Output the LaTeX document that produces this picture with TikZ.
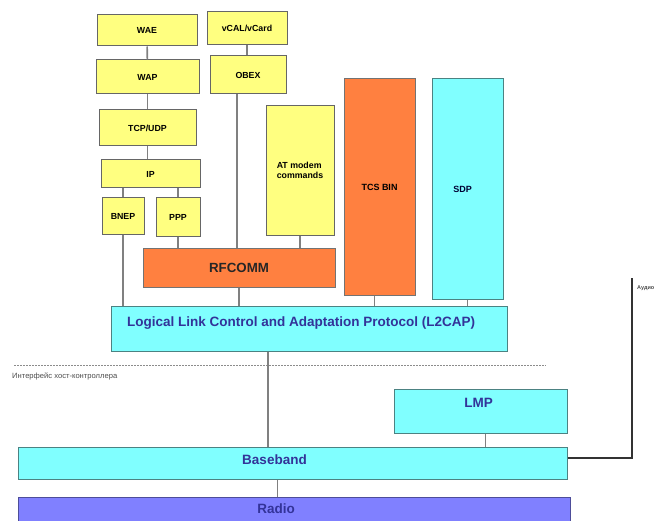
\documentclass[tikz,border=0pt]{standalone}
\usepackage{fontspec}
\setmainfont{Liberation Sans}
\usepackage{xcolor}
\usepackage{tikz}
\usetikzlibrary{positioning}

\definecolor{upyel}{HTML}{FFFF80}
\definecolor{uporg}{HTML}{FF8040}
\definecolor{upcyan}{HTML}{80FFFF}
\definecolor{upradio}{HTML}{8080FF}
\definecolor{uptext}{HTML}{333399}

\begin{document}
\begin{tikzpicture}[
    x=1pt, y=-1pt,
    box/.style={draw=black!60, rectangle, line width=1pt, inner sep=0pt, align=center},
    ylw/.style={box, fill=upyel, font=\bfseries\fontsize{8.8}{10}\selectfont},
    orng/.style={box, fill=uporg, draw=black!55},
    cyn/.style={box, fill=upcyan, draw=teal!60!black!70},
    big/.style={font=\bfseries\fontsize{13.5}{15}\selectfont, text=uptext},
    conn/.style={draw=black!50, line width=1.6pt}
  ]
    \useasboundingbox (0,0) rectangle (660,521);

    % upper stack
    \node[ylw, minimum width=100, minimum height=31] (wae) at (147,30.5) {WAE};
    \node[ylw, minimum width=80, minimum height=33] (vcal) at (247,28.5) {vCAL/vCard};
    \node[ylw, minimum width=103, minimum height=34] (wap) at (147.5,77) {WAP};
    \node[ylw, minimum width=76, minimum height=38] (obex) at (248,75) {OBEX};
    \node[ylw, minimum width=97, minimum height=36] (tcp) at (147.5,128) {TCP/UDP};
    \node[ylw, minimum width=99, minimum height=28] (ip) at (150.5,174) {IP};
    \node[ylw, minimum width=42, minimum height=36] (bnep) at (123,216) {BNEP};
    \node[ylw, minimum width=44, minimum height=38] (ppp) at (178,217) {PPP};
    \node[ylw, minimum width=68, minimum height=129, align=left] (at) at (300,170.5) {AT modem\\commands};
    \node[orng, minimum width=71, minimum height=216, font=\bfseries\fontsize{9}{10}\selectfont] (tcs) at (379.5,187) {TCS BIN};
    \node[cyn, minimum width=71, minimum height=220, font=\bfseries\fontsize{9}{10}\selectfont, text=black!80!blue] (sdp) at (467.5,189) {\hspace*{-10pt}SDP};
    \node[orng, minimum width=192, minimum height=39, font=\bfseries\fontsize{13.3}{15}\selectfont, text=black!85] (rfcomm) at (239,267.5) {RFCOMM};

    % lower stack
    \node[cyn, minimum width=396, minimum height=45,
      label={[big, xshift=-8pt, yshift=5pt]center:Logical Link Control and Adaptation Protocol (L2CAP)}] (l2cap) at (309,328.5) {};
    \node[cyn, minimum width=173, minimum height=44,
      label={[big, xshift=-2pt, yshift=8pt]center:LMP}] (lmp) at (480.5,411) {};
    \node[cyn, minimum width=549, minimum height=32,
      label={[big, xshift=-18pt, yshift=3pt]center:Baseband}] (base) at (292.5,463) {};
    \node[box, fill=upradio, draw=upradio!60!black, minimum width=552, minimum height=30,
      label={[big, xshift=-18pt, yshift=3pt]center:Radio}] (radio) at (294,512) {};

    % host controller interface
    \draw[black!45, line width=0.8pt, dash pattern=on 2pt off 1pt] (14,365) -- (546,365);
    \node[anchor=west, font=\fontsize{7.6}{9}\selectfont, text=black!70, inner sep=0pt] (hci) at (12,376) {Интерфейс хост-контроллера};

    % audio
    \coordinate (audtop) at (632,278);
    \node[anchor=west, font=\bfseries\fontsize{5.5}{6}\selectfont, text=black!70, inner sep=0pt] (audio) at (637,288) {Аудио};

    % connectors
    \draw[conn] (wae) -- (wap);
    \draw[conn] (wap) -- (tcp);
    \draw[conn] (tcp) -- (tcp |- ip.north);
    \draw[conn] (bnep.north) -- (bnep.north |- ip.south);
    \draw[conn] (ppp.north) -- (ppp.north |- ip.south);
    \draw[conn] (bnep.south) -- (bnep.south |- l2cap.north);
    \draw[conn] (ppp.south) -- (ppp.south |- rfcomm.north);
    \draw[conn] (vcal.south) -- (vcal.south |- obex.north);
    \draw[conn] ([xshift=-11pt]obex.south) -- ([xshift=-11pt]obex.south |- rfcomm.north);
    \draw[conn] (at.south) -- (at.south |- rfcomm.north);
    \draw[conn] (rfcomm.south) -- (rfcomm.south |- l2cap.north);
    \draw[conn] ([xshift=-5pt]tcs.south) -- ([xshift=-5pt]tcs.south |- l2cap.north);
    \draw[conn] (sdp.south) -- (sdp.south |- l2cap.north);
    \draw[conn] ([xshift=-41pt]l2cap.south) -- ([xshift=-41pt]l2cap.south |- base.north);
    \draw[conn] ([xshift=5pt]lmp.south) -- ([xshift=5pt]lmp.south |- base.north);
    \draw[conn] ([xshift=-15pt]base.south) -- ([xshift=-15pt]base.south |- radio.north);
    \draw[black!80, line width=1.5pt] ([yshift=5pt]base.east) -| (audtop);
  \end{tikzpicture}
\end{document}
